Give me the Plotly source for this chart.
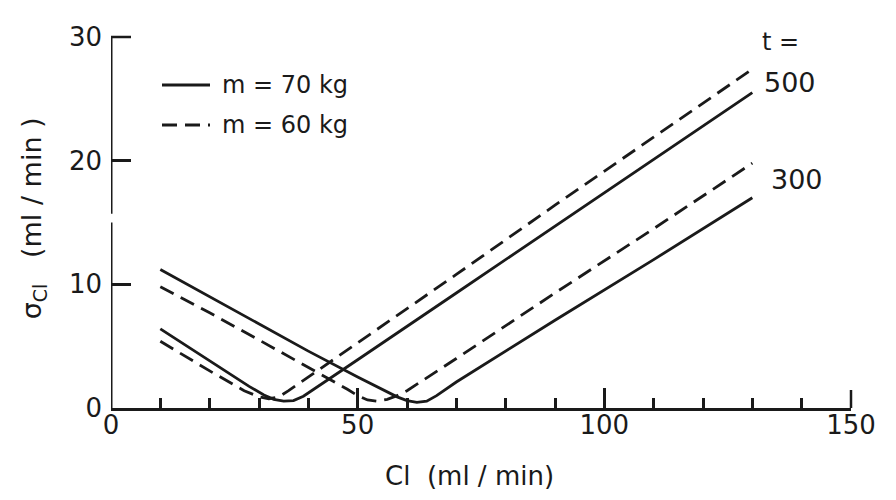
import plotly.graph_objects as go

# ---- data ----
# t = 500, m = 70 kg (solid)
x_500_m70 = [10, 20, 28, 31, 33, 35, 37, 39, 41, 50, 70, 90, 110, 130]
y_500_m70 = [6.4, 3.8, 1.75, 1.05, 0.7, 0.55, 0.6, 0.95, 1.5, 3.9, 9.3, 14.7, 20.1, 25.5]
# t = 500, m = 60 kg (dashed)
x_500_m60 = [10, 20, 27, 30, 32, 34, 36, 40, 50, 70, 90, 110, 130]
y_500_m60 = [5.4, 3.0, 1.4, 0.9, 0.75, 0.9, 1.4, 2.5, 5.3, 10.8, 16.4, 21.9, 27.4]
# t = 300, m = 70 kg (solid)
x_300_m70 = [10, 20, 30, 40, 50, 55, 58, 60, 62, 64, 66, 70, 90, 110, 130]
y_300_m70 = [11.2, 9.0, 6.8, 4.6, 2.5, 1.5, 0.9, 0.6, 0.45, 0.55, 1.0, 2.1, 7.1, 12.0, 17.0]
# t = 300, m = 60 kg (dashed)
x_300_m60 = [10, 20, 30, 40, 45, 48, 50, 52, 54, 56, 58, 60, 70, 90, 110, 130]
y_300_m60 = [9.8, 7.7, 5.5, 3.3, 2.2, 1.5, 1.0, 0.65, 0.55, 0.7, 1.0, 1.4, 4.0, 9.3, 14.5, 19.8]

x_ticks = [0, 50, 100, 150]
y_ticks = [0, 10, 20, 30]
curve_labels = ["500", "300"]
legend_labels = ["m = 70 kg", "m = 60 kg"]

INK = "#1a1a1a"
FONT = "DejaVu Sans"
LW = 2.8
DASH = "15px,8px"

fig = go.Figure()
for xs, ys, dash in [
    (x_500_m70, y_500_m70, "solid"),
    (x_500_m60, y_500_m60, DASH),
    (x_300_m70, y_300_m70, "solid"),
    (x_300_m60, y_300_m60, DASH),
]:
    fig.add_trace(go.Scatter(x=xs, y=ys, mode="lines",
                             line=dict(color=INK, width=LW, dash=dash),
                             showlegend=False, hoverinfo="skip"))

fig.update_layout(
    width=896, height=500,
    margin=dict(l=111, r=45, t=37, b=92),
    paper_bgcolor="white", plot_bgcolor="white",
    font=dict(family=FONT, color=INK, size=26),
    showlegend=False,
)
fig.update_xaxes(
    range=[0, 150], tickvals=x_ticks, ticktext=[str(v) for v in x_ticks],
    ticks="inside", ticklen=20, tickwidth=2.5, tickcolor=INK,
    minor=dict(dtick=10, tick0=0, ticks="inside", ticklen=10, tickwidth=2.5, tickcolor=INK),
    showline=True, linecolor=INK, linewidth=3, showgrid=False, zeroline=False,
    tickfont=dict(size=26, family=FONT, color=INK), ticklabelstandoff=-8,
)
fig.update_yaxes(
    range=[0, 30], tickvals=y_ticks, ticktext=[str(v) for v in y_ticks],
    ticks="inside", ticklen=20, tickwidth=2.5, tickcolor=INK,
    showline=False, showgrid=False, zeroline=False,
    tickfont=dict(size=26, family=FONT, color=INK), ticklabelstandoff=8,
)

# y axis drawn with a small break
fig.add_shape(type="line", xref="x", yref="y", x0=0, x1=0, y0=0, y1=15.0,
              line=dict(color=INK, width=3))
fig.add_shape(type="line", xref="x", yref="y", x0=0, x1=0, y0=15.7, y1=30,
              line=dict(color=INK, width=3))
# end ticks at the top of the y axis and the right end of the x axis
fig.add_shape(type="line", xref="paper", yref="paper", xsizemode="pixel", xanchor=0,
              x0=0, x1=20, y0=1, y1=1, line=dict(color=INK, width=2.5))
fig.add_shape(type="line", xref="paper", yref="paper", ysizemode="pixel", yanchor=0,
              x0=1, x1=1, y0=0, y1=18, line=dict(color=INK, width=2.5))

# axis titles
fig.add_annotation(text="Cl  (ml / min)", xref="paper", yref="paper",
                   x=0.484, y=-0.183, xanchor="center", yanchor="middle", showarrow=False,
                   font=dict(size=26, family=FONT, color=INK))
fig.add_annotation(text="σ<sub>Cl</sub>   (ml / min )", xref="paper", yref="paper",
                   x=-0.105, y=0.512, xanchor="center", yanchor="middle",
                   showarrow=False, textangle=-90,
                   font=dict(size=27, family=FONT, color=INK))

# curve labels
fig.add_annotation(text="t =", x=135.8, y=29.6, xref="x", yref="y", showarrow=False,
                   xanchor="center", yanchor="middle",
                   font=dict(size=24, family=FONT, color=INK))
fig.add_annotation(text=curve_labels[0], x=137.6, y=26.3, xref="x", yref="y",
                   xanchor="center", yanchor="middle",
                   showarrow=False, font=dict(size=27, family=FONT, color=INK))
fig.add_annotation(text=curve_labels[1], x=139.1, y=18.5, xref="x", yref="y",
                   xanchor="center", yanchor="middle",
                   showarrow=False, font=dict(size=27, family=FONT, color=INK))

# legend (manual key)
for i, (lab, dash) in enumerate(zip(legend_labels, ["solid", DASH])):
    yp = (408 - (85 + 40 * i)) / 371
    fig.add_shape(type="line", xref="paper", yref="paper",
                  x0=(162 - 111) / 740, x1=(210 - 111) / 740, y0=yp, y1=yp,
                  line=dict(color=INK, width=LW, dash=dash))
    fig.add_annotation(text=lab, xref="paper", yref="paper",
                       x=(220 - 111) / 740, y=yp, xanchor="left", yanchor="middle",
                       showarrow=False,
                       font=dict(size=24, family=FONT, color=INK))

fig.write_html("out.html")
